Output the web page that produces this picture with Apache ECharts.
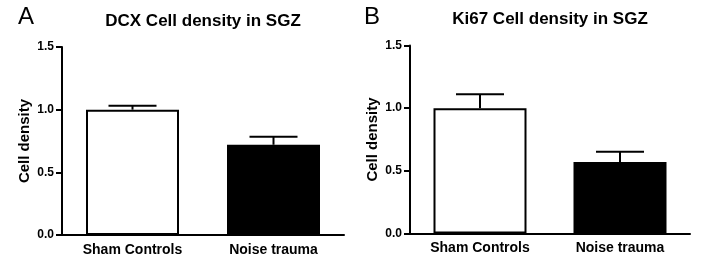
<!DOCTYPE html>
<html>
<head>
<meta charset="utf-8">
<script src="https://cdn.jsdelivr.net/npm/echarts@6/dist/echarts.min.js"></script>
<style>
    html, body { margin: 0; padding: 0; background: #fff; }
    #chart { width: 702px; height: 260px; }
</style>
</head>
<body>
<div id="chart"></div>
<script>
var categories = ['Sham Controls', 'Noise trauma'];
var yTicks = [0, 0.5, 1.0, 1.5];

// DCX panel (A)
var dcxMean = [1.0, 0.72];
var dcxSem = [0.032, 0.064];

// Ki67 panel (B)
var ki67Mean = [1.0, 0.57];
var ki67Sem = [0.111, 0.082];

var barColors = ['#ffffff', '#000000'];
var fontName = '"Liberation Sans", Arial, sans-serif';

var barData = function (means) {
    return means.map(function (v, i) {
        return { value: v, itemStyle: { color: barColors[i] } };
    });
};

var errData = function (means, sems) {
    return means.map(function (v, i) {
        return [i, v, v + sems[i]];
    });
};

// 只画上方误差线
var renderErr = function (params, api) {
    var base = api.coord([api.value(0), api.value(1)]);
    var top = api.coord([api.value(0), api.value(2)]);
    var half = 24;
    var st = { stroke: '#000', lineWidth: 2 };
    return {
        type: 'group',
        children: [
            { type: 'line', shape: { x1: base[0], y1: base[1], x2: top[0], y2: top[1] }, style: st },
            { type: 'line', shape: { x1: top[0] - half, y1: top[1], x2: top[0] + half, y2: top[1] }, style: st }
        ]
    };
};

var makeX = function (idx) {
    return {
        type: 'category',
        gridIndex: idx,
        data: categories,
        axisLine: { lineStyle: { color: '#000', width: 2 } },
        axisTick: { alignWithLabel: true, length: 4, lineStyle: { color: '#000', width: 2 } },
        axisLabel: { color: '#000', fontWeight: 'bold', fontSize: 14, fontFamily: fontName, margin: 8 },
        splitLine: { show: false }
    };
};

var makeY = function (idx) {
    return {
        type: 'value',
        gridIndex: idx,
        min: yTicks[0],
        max: yTicks[yTicks.length - 1],
        interval: 0.5,
        name: 'Cell density',
        nameLocation: 'middle',
        nameGap: 30,
        nameTextStyle: { color: '#000', fontWeight: 'bold', fontSize: 15, fontFamily: fontName },
        axisLine: { show: true, lineStyle: { color: '#000', width: 2 } },
        axisTick: { show: true, length: 6, lineStyle: { color: '#000', width: 2 } },
        axisLabel: {
            color: '#000', fontWeight: 'bold', fontSize: 12, fontFamily: fontName, margin: 8,
            formatter: function (v) { return v.toFixed(1); }
        },
        splitLine: { show: false }
    };
};

var makeText = function (x, y, text, font) {
    return {
        type: 'text', x: x, y: y,
        style: { text: text, font: font, fill: '#000', align: 'center', verticalAlign: 'middle' }
    };
};

var myChart = echarts.init(document.getElementById('chart'), null, { renderer: 'canvas' });

var option = {
    backgroundColor: '#fff',
    animation: false,
    grid: [
        { left: 62, top: 47, width: 282, height: 188 },
        { left: 410, top: 45.5, width: 280, height: 188 }
    ],
    xAxis: [makeX(0), makeX(1)],
    yAxis: [makeY(0), makeY(1)],
    graphic: [
        makeText(26, 17, 'A', '24px ' + fontName),
        makeText(372, 17, 'B', '24px ' + fontName),
        makeText(203, 21, 'DCX Cell density in SGZ', 'bold 17px ' + fontName),
        makeText(550, 19, 'Ki67 Cell density in SGZ', 'bold 17px ' + fontName)
    ],
    series: [
        {
            type: 'bar', xAxisIndex: 0, yAxisIndex: 0, barWidth: 93,
            itemStyle: { borderColor: '#000', borderWidth: 2 },
            data: barData(dcxMean)
        },
        {
            type: 'custom', xAxisIndex: 0, yAxisIndex: 0,
            renderItem: renderErr, data: errData(dcxMean, dcxSem), z: 1
        },
        {
            type: 'bar', xAxisIndex: 1, yAxisIndex: 1, barWidth: 93,
            itemStyle: { borderColor: '#000', borderWidth: 2 },
            data: barData(ki67Mean)
        },
        {
            type: 'custom', xAxisIndex: 1, yAxisIndex: 1,
            renderItem: renderErr, data: errData(ki67Mean, ki67Sem), z: 1
        }
    ]
};

myChart.setOption(option);
</script>
</body>
</html>
